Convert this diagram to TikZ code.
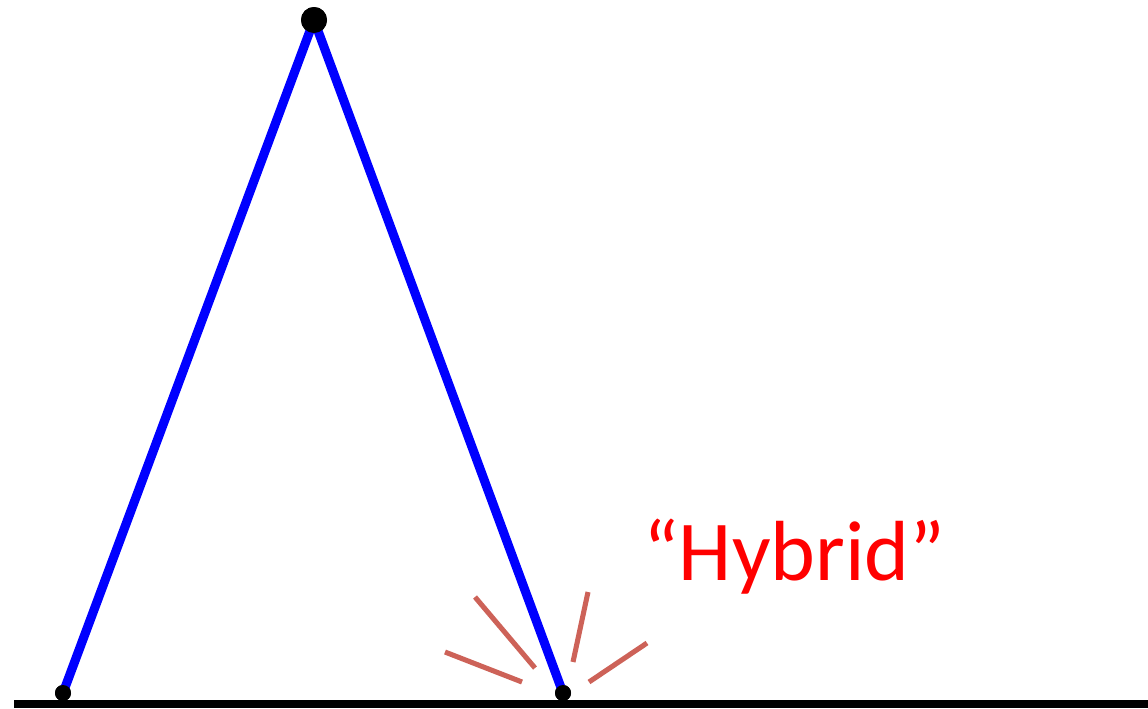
\documentclass[tikz,border=0pt]{standalone}
\usepackage{fontspec}
\newfontfamily\calib{Carlito}
\definecolor{burst}{RGB}{205,98,88}
\tikzset{
  leg/.style={draw=blue, line width=6.8pt},
  ground/.style={draw=black, line width=6pt},
  vertex/.style={circle, fill=black, inner sep=0pt},
  ray/.style={draw=burst, line width=3.8pt},
}
\begin{document}
\begin{tikzpicture}[x=0.75pt,y=-0.75pt]
\useasboundingbox (0,0) rectangle (1148,708);
\coordinate (gl) at (14,704);
\coordinate (gr) at (1148,704);
\draw[ground] (gl) -- (gr);
\node[vertex, minimum size=19.5pt] (top) at (314,20) {};
\node[vertex, minimum size=12pt] (bl) at (63,693) {};
\node[vertex, minimum size=12pt] (br) at (563,693) {};
\draw[leg] (top.center) -- (bl.center);
\draw[leg] (top.center) -- (br.center);
\node[vertex, minimum size=19.5pt] at (314,20) {};
\node[vertex, minimum size=12pt] at (63,693) {};
\node[vertex, minimum size=12pt] at (563,693) {};
\coordinate (r1a) at (445,652); \coordinate (r1b) at (522,682);
\coordinate (r2a) at (475,597); \coordinate (r2b) at (535,668);
\coordinate (r3a) at (588,592); \coordinate (r3b) at (573,662);
\coordinate (r4a) at (647,643); \coordinate (r4b) at (589,682);
\draw[ray] (r1a) -- (r1b);
\draw[ray] (r2a) -- (r2b);
\draw[ray] (r3a) -- (r3b);
\draw[ray] (r4a) -- (r4b);
\node[anchor=base west, inner sep=0pt, text=red, font=\calib\fontsize{64}{70}\selectfont] (label) at (643,580) {“Hybrid”};
\end{tikzpicture}
\end{document}
